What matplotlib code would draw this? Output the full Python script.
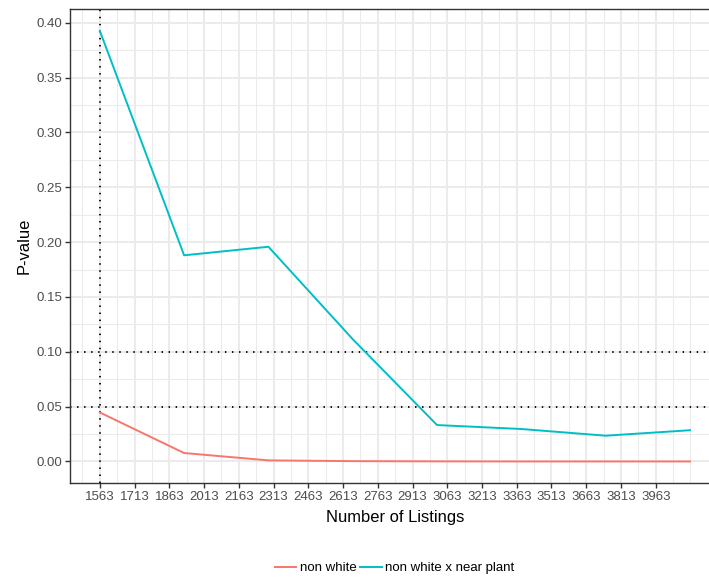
import numpy as np
import matplotlib
matplotlib.use("Agg")
import matplotlib.pyplot as plt
from matplotlib.lines import Line2D

plt.rcParams['font.family'] = ['Liberation Sans', 'DejaVu Sans']

# Sample sizes (number of listings) at which the models were fit
listings = [1563, 1927, 2291, 2655, 3019, 3383, 3747, 4111]

# P-values of the two coefficients
p_non_white = [0.0447, 0.0077, 0.0010, 0.0003, 0.0001, 0.0000, 0.0000, 0.0000]
p_non_white_x_plant = [0.3927, 0.1880, 0.1958, 0.1115, 0.0332, 0.0296, 0.0235, 0.0285]

series_labels = ["non white", "non white x near plant"]
series_colors = ["#F8766D", "#00BFC4"]

x_breaks = list(range(1563, 4000, 150))
y_breaks = [0.00, 0.05, 0.10, 0.15, 0.20, 0.25, 0.30, 0.35, 0.40]
ref_p_values = [0.10, 0.05]
ref_n = 1563

W, H = 709, 581
dpi = 100
fig = plt.figure(figsize=(W / dpi, H / dpi), dpi=dpi)

# panel placement in pixels
left_px, right_px, top_px, bottom_px = 70.3, 719.5, 9.3, 483.0
ax = fig.add_axes([left_px / W, 1 - bottom_px / H,
                   (right_px - left_px) / W, (bottom_px - top_px) / H])

# ggplot-like expansion (5%) of the data range
xs = listings
xr = max(xs) - min(xs)
xlo, xhi = min(xs) - 0.05 * xr, max(xs) + 0.05 * xr
all_y = p_non_white + p_non_white_x_plant
yr = max(all_y) - min(all_y)
ylo, yhi = min(all_y) - 0.05 * yr, max(all_y) + 0.05 * yr
ax.set_xlim(xlo, xhi)
ax.set_ylim(ylo, yhi)

# grid: minor then major
minor_x = [b - 75 for b in x_breaks] + [x_breaks[-1] + 75, x_breaks[-1] + 150]
minor_y = [b + 0.025 for b in y_breaks[:-1]]
for mx in minor_x:
    ax.axvline(mx, color="#EBEBEB", lw=0.75, zorder=0)
for my in minor_y:
    ax.axhline(my, color="#EBEBEB", lw=0.75, zorder=0)
for bx in x_breaks:
    ax.axvline(bx, color="#EBEBEB", lw=1.45, zorder=0.5)
for by in y_breaks:
    ax.axhline(by, color="#EBEBEB", lw=1.45, zorder=0.5)

# reference lines
dot = (0, (0.8, 3.1))
for rp in ref_p_values:
    ax.axhline(rp, color="black", lw=1.3, ls=dot, zorder=2)
ax.axvline(ref_n, color="black", lw=1.3, ls=dot, zorder=2)

ax.plot(listings, p_non_white, color=series_colors[0], lw=1.4, zorder=3)
ax.plot(listings, p_non_white_x_plant, color=series_colors[1], lw=1.4, zorder=3)

ax.set_xticks(x_breaks)
ax.set_xticklabels([str(b) for b in x_breaks])
ax.set_yticks(y_breaks)
ax.set_yticklabels([f"{b:.2f}" for b in y_breaks])
ax.tick_params(axis="both", which="major", length=3.3, width=1.0, color="#333333",
               labelsize=9.5, labelcolor="#4D4D4D", pad=2.5)
for s in ax.spines.values():
    s.set_color("#333333")
    s.set_linewidth(1.0)

ax.set_xlabel("Number of Listings", fontsize=11.9, color="black", labelpad=5)
ax.set_ylabel("P-value", fontsize=11.9, color="black", labelpad=3.5)

handles = [Line2D([], [], color=c, lw=1.4) for c in series_colors]
fig.legend(handles, series_labels, loc="center", ncol=2, frameon=False,
           bbox_to_anchor=(394.7 / W, 1 - 568 / H), fontsize=9.5,
           handlelength=1.6, handletextpad=0.3, columnspacing=0.3)

fig.savefig("out.png", dpi=dpi)
